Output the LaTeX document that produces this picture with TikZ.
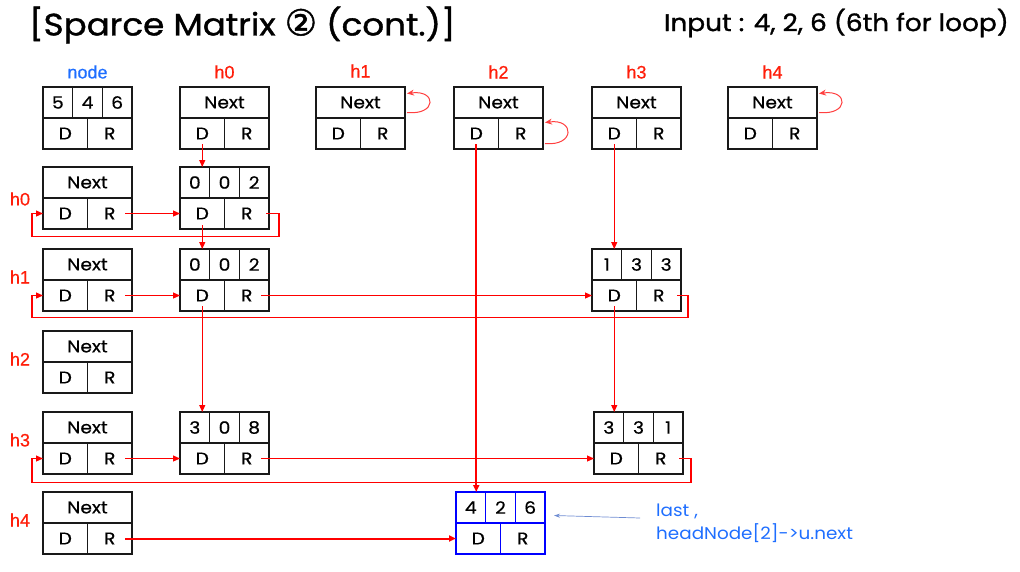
\documentclass[tikz,border=0pt]{standalone}
\usepackage{fontspec}
\setmainfont{Poppins}
\newfontfamily\titlefont{Poppins}[FakeStretch=1.1,FakeBold=1.2]
\newfontfamily\boxfont{Poppins}[FakeStretch=1.1,FakeBold=0.6]
\newfontfamily\annofont{Poppins}[FakeStretch=1.08]
\newfontfamily\labfont{Liberation Sans}[FakeBold=0.5]
\newfontfamily\symfont{DejaVu Sans}[FakeBold=1.2]
\usetikzlibrary{arrows.meta,calc}
\definecolor{hred}{RGB}{255,30,10}
\definecolor{lblue}{RGB}{30,110,255}
\definecolor{linered}{RGB}{255,0,0}
\definecolor{boxblue}{RGB}{0,0,255}
\definecolor{edgec}{RGB}{25,25,25}
\definecolor{annoline}{RGB}{110,140,210}

\tikzset{
  cellbox/.style={draw=edgec, line width=1.5pt, minimum height=31pt, inner sep=0pt, outer sep=0pt,
    anchor=north west, font=\boxfont\fontsize{17}{20}\selectfont},
  rline/.style={draw=linered, line width=1.1pt, -{Triangle[length=7pt,width=6pt]}},
  rthick/.style={rline, line width=2pt},
  loopline/.style={draw=linered!75, line width=1pt, -{Stealth[length=7pt,width=6pt]}},
  hlab/.style={text=hred, font=\labfont\fontsize{18}{20}\selectfont},
  bluelab/.style={text=lblue, font=\labfont\fontsize{18}{20}\selectfont},
  anno/.style={text=lblue, font=\annofont\fontsize{17}{23}\selectfont, align=left, inner sep=0pt},
  annoarrow/.style={draw=annoline, line width=0.7pt, -{Stealth[length=6pt,width=4pt]}},
}

\newcommand{\mkhead}[4]{%
  \node[cellbox, minimum width=89pt] (#1n) at (#2,#3) {#4};
  \node[cellbox, minimum width=44.5pt] (#1d) at ($(#2,#3)+(0,31)$) {D};
  \node[cellbox, minimum width=44.5pt] (#1r) at ($(#2,#3)+(44.5,31)$) {R};
}
\newcommand{\mkelem}[7]{%
  \node[cellbox, draw=#7, minimum width=29.67pt] (#1a) at (#2,#3) {#4};
  \node[cellbox, draw=#7, minimum width=29.67pt] (#1b) at ($(#2,#3)+(29.67,0)$) {#5};
  \node[cellbox, draw=#7, minimum width=29.67pt] (#1c) at ($(#2,#3)+(59.33,0)$) {#6};
  \node[cellbox, draw=#7, minimum width=44.5pt] (#1d) at ($(#2,#3)+(0,31)$) {D};
  \node[cellbox, draw=#7, minimum width=44.5pt] (#1r) at ($(#2,#3)+(44.5,31)$) {R};
}

\begin{document}
\begin{tikzpicture}[x=1pt,y=-1pt]
\useasboundingbox (0,0) rectangle (1020,571);

% titles
\node[anchor=west, inner sep=0pt, font=\titlefont\fontsize{31}{34}\selectfont] (title) at (29,25)
  {[Sparce Matrix {\symfont\fontsize{36}{36}\selectfont ②} (cont.)]};
\node[anchor=east, inner sep=0pt, font=\titlefont\fontsize{24}{26}\selectfont] (input) at (1009,23)
  {Input : 4, 2, 6 (6th for loop)};

% top row
\mkelem{N}{43}{87}{5}{4}{6}{edgec}
\mkhead{Hz}{180}{87}{Next}
\mkhead{Ha}{316}{87}{Next}
\mkhead{Hb}{454}{87}{Next}
\mkhead{Hc}{592}{87}{Next}
\mkhead{Hd}{728}{87}{Next}

\node[bluelab] (lnode) at (Na.north -| Nb.center) [yshift=15pt] {node};
\node[hlab] (lhz) at ($(Hzn.north)+(0,-15)$) {h0};
\node[hlab] (lha) at ($(Han.north)+(0,-16)$) {h1};
\node[hlab] (lhb) at ($(Hbn.north)+(0,-15)$) {h2};
\node[hlab] (lhc) at ($(Hcn.north)+(0,-15)$) {h3};
\node[hlab] (lhd) at ($(Hdn.north)+(0,-15)$) {h4};

% left column
\mkhead{Rz}{43}{167}{Next}
\mkhead{Ra}{43}{249}{Next}
\mkhead{Rb}{43}{331}{Next}
\mkhead{Rc}{43}{412}{Next}
\mkhead{Rd}{43}{492}{Next}

\node[hlab] (rlz) at (20,199) {h0};
\node[hlab] (rla) at (20,277) {h1};
\node[hlab] (rlb) at (20,359) {h2};
\node[hlab] (rlc) at (20,440) {h3};
\node[hlab] (rld) at (20,520) {h4};

% elements
\mkelem{Ez}{180}{167}{0}{0}{2}{edgec}
\mkelem{Ea}{180}{249}{0}{0}{2}{edgec}
\mkelem{Ec}{180}{412}{3}{0}{8}{edgec}
\mkelem{Fa}{592}{249}{1}{3}{3}{edgec}
\mkelem{Fc}{594}{412}{3}{3}{1}{edgec}
\mkelem{B}{456}{492}{4}{2}{6}{boxblue}

% self loops
\draw[loopline] ([xshift=2pt,yshift=-10pt]Han.east) .. controls +(30,3) and +(30,-4) .. ([xshift=2pt,yshift=9pt]Han.east);
\draw[loopline] ([xshift=2pt,yshift=-10pt]Hdn.east) .. controls +(30,3) and +(30,-4) .. ([xshift=2pt,yshift=9pt]Hdn.east);
\draw[loopline] ([xshift=2pt,yshift=-10pt]Hbr.east) .. controls +(30,3) and +(30,-4) .. ([xshift=2pt,yshift=11pt]Hbr.east);

% head downs
\draw[rline] ([yshift=5pt]Hzd.south) -- (Hzd |- Eza.north);
\draw[rline] ([yshift=5pt]Hcd.south) -- (Hcd |- Faa.north);
\draw[rthick] ([yshift=5pt]Hbd.south) -- (Hbd |- Ba.north);

% element downs
\draw[rline] ([yshift=4pt]Ezd.south) -- (Ezd |- Eaa.north);
\draw[rline] ([yshift=5pt]Ead.south) -- (Ead |- Eca.north);
\draw[rline] ([yshift=5pt]Fad.south) -- (Fad |- Fca.north);

% row h0
\draw[rline] ([xshift=-7pt]Rzr.east) -- (Ezd.west);
\draw[rline] ([xshift=-3pt]Ezr.east) -- ++(13,0) -- ++(0,23) -| ([xshift=-11pt]Rzd.west) -- (Rzd.west);

% row h1
\draw[rline] ([xshift=-7pt]Rar.east) -- (Ead.west);
\draw[rline] ([xshift=-8pt]Ear.east) -- (Fad.west);
\draw[rline] ([xshift=-4pt]Far.east) -- ++(11,0) -- ++(0,22) -| ([xshift=-11pt]Rad.west) -- (Rad.west);

% row h3
\draw[rline] ([xshift=-7pt]Rcr.east) -- (Ecd.west);
\draw[rline] ([xshift=-8pt]Ecr.east) -- (Fcd.west);
\draw[rline] ([xshift=-4pt]Fcr.east) -- ++(12,0) -- ++(0,24) -| ([xshift=-11pt]Rcd.west) -- (Rcd.west);

% row h4
\draw[rthick] ([xshift=-7pt]Rdr.east) -- (Bd.west);

% annotation
\node[anno, anchor=north west] (ann) at (656,504) {last ,\\headNode[2]->u.next};
\coordinate (annstart) at (640,518);
\draw[annoarrow] (annstart) -- ([xshift=9pt,yshift=-8pt]Bc.east);
\end{tikzpicture}
\end{document}
